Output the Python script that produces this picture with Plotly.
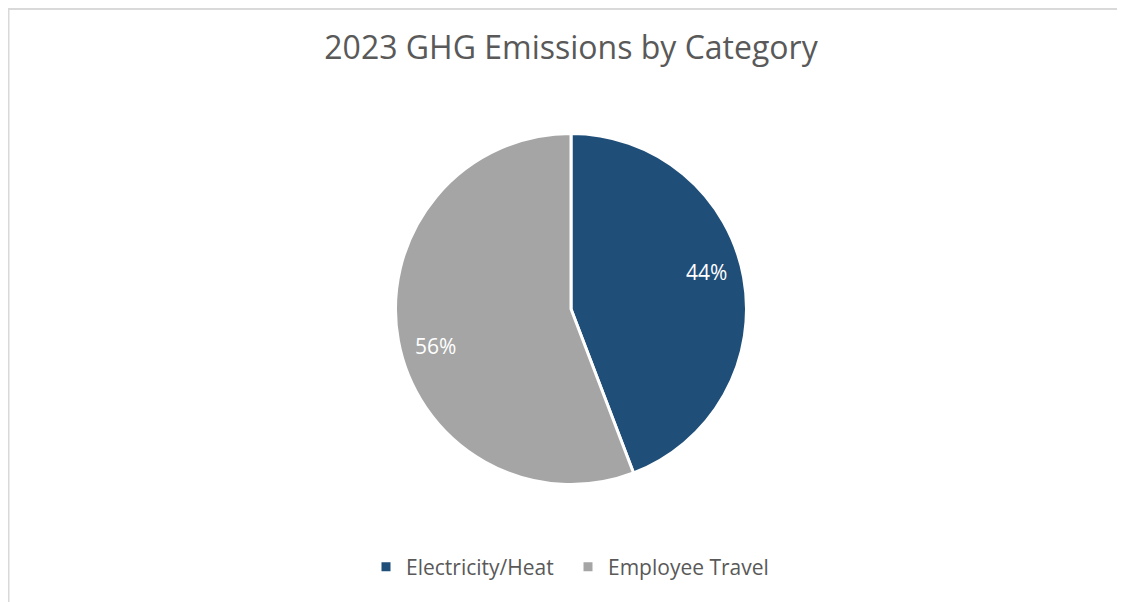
import math
import plotly.graph_objects as go

categories = ["Electricity/Heat", "Employee Travel"]
values = [44.2, 55.8]
colors = ["#1F4E79", "#A5A5A5"]

# browser adds an 8px body margin; figure is laid out in its own pixel space
W, H = 1117, 594
cx, cy, r = 563, 301, 175.5

fig = go.Figure(go.Pie(
    labels=categories,
    values=values,
    sort=False,
    direction="clockwise",
    rotation=0,
    marker=dict(colors=colors, line=dict(color="white", width=3)),
    textinfo="none",
    domain=dict(x=[(cx - 250) / W, (cx + 250) / W], y=[1 - (cy + r) / H, 1 - (cy - r) / H]),
    hoverinfo="label+percent",
))

# percentage labels placed along each slice's mid-angle (Excel-style)
total = sum(values)
annotations = []
start = 0.0
label_shift = math.radians(-5)
for v in values:
    frac = v / total
    mid = (start + frac / 2) * 2 * math.pi + label_shift
    start += frac
    px = cx + 0.80 * r * math.sin(mid)
    py = cy - 0.80 * r * math.cos(mid)
    annotations.append(dict(
        x=px / W, y=1 - py / H, xref="paper", yref="paper",
        text=f"{round(frac * 100)}%", showarrow=False,
        xanchor="center", yanchor="middle",
        font=dict(family="Open Sans", size=21, color="white"),
    ))

fig.update_layout(
    width=W, height=H,
    margin=dict(l=0, r=0, t=0, b=0),
    paper_bgcolor="white",
    plot_bgcolor="white",
    font=dict(family="Open Sans", color="#595959"),
    title=dict(
        text="2023 GHG Emissions by Category",
        x=cx / W, xanchor="center", xref="paper",
        y=1 - 40 / H, yanchor="middle", yref="container",
        font=dict(family="Open Sans", size=32, color="#595959"),
    ),
    legend=dict(
        orientation="h",
        x=560 / W, xanchor="center",
        y=1 - 559 / H, yanchor="middle",
        font=dict(family="Open Sans", size=21, color="#595959"),
        traceorder="normal",
        entrywidth=157, entrywidthmode="pixels",
    ),
    annotations=annotations,
    shapes=[
        dict(type="line", xref="paper", yref="paper",
             x0=0, x1=1.01, y0=1 - 1 / H, y1=1 - 1 / H,
             line=dict(color="#D9D9D9", width=2)),
        dict(type="line", xref="paper", yref="paper",
             x0=0.5 / W, x1=0.5 / W, y0=1.01, y1=-0.01,
             line=dict(color="#D9D9D9", width=2)),
    ],
)

fig.write_html("out.html")
